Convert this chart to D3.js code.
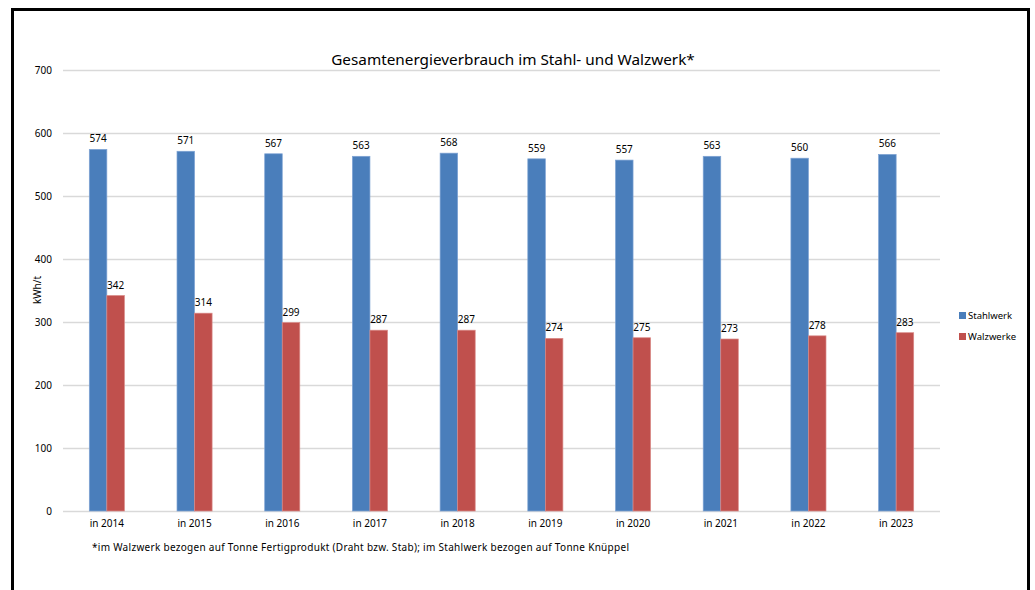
<!DOCTYPE html>
<html>
<head>
<meta charset="utf-8">
<script src="https://cdn.jsdelivr.net/npm/d3@7"></script>
<style>
  html, body { margin: 0; padding: 0; background: #fff; }
  svg { display: block; font-family: "Noto Sans", "Open Sans", sans-serif; }
</style>
</head>
<body>
<svg id="chart" width="1035" height="590"></svg>
<script>
// Energy use per tonne, steel plant vs. rolling mills
const categories = ["in 2014", "in 2015", "in 2016", "in 2017", "in 2018",
                    "in 2019", "in 2020", "in 2021", "in 2022", "in 2023"];
const seriesNames = ["Stahlwerk", "Walzwerke"];
const stahlwerk = [574, 571, 567, 563, 568, 559, 557, 563, 560, 566];
const walzwerke = [342, 314, 299, 287, 287, 274, 275, 273, 278, 283];
const yTicks = [0, 100, 200, 300, 400, 500, 600, 700];
const colors = ["#4a7ebb", "#c0504d"];
const strokeColors = ["#7ea3d4", "#d98987"];

const svg = d3.select("#chart");
const margin = { left: 63, right: 95, top: 70, bottom: 79 };

// Outer frame
svg.append("rect")
  .attr("x", 12.5).attr("y", 9.5)
  .attr("width", 1016).attr("height", 590)
  .attr("fill", "none").attr("stroke", "#000").attr("stroke-width", 3);

const x0 = d3.scaleBand()
  .domain(categories)
  .range([margin.left, 940])
  .paddingInner(0.6).paddingOuter(0.3);
const x1 = d3.scaleBand()
  .domain(seriesNames)
  .range([0, x0.bandwidth()]);
const y = d3.scaleLinear().domain([0, 700]).range([511, 70]);

// Gridlines
svg.append("g").selectAll("line").data(yTicks).join("line")
  .attr("x1", margin.left).attr("x2", 940)
  .attr("y1", d => Math.round(y(d)) + 0.5).attr("y2", d => Math.round(y(d)) + 0.5)
  .attr("stroke", "#d9d9d9").attr("stroke-width", 1.5);

// Y axis labels
const yAxis = d3.axisLeft(y).tickValues(yTicks).tickSize(0).tickPadding(0);
const yg = svg.append("g").attr("transform", "translate(52,0)").call(yAxis);
yg.select(".domain").remove();
yg.selectAll("text").attr("font-size", 10).attr("fill", "#000")
  .attr("font-family", "Noto Sans, sans-serif");

// X axis labels
const xAxis = d3.axisBottom(x0).tickSize(0).tickPadding(0);
const xg = svg.append("g").attr("transform", "translate(0,520)").call(xAxis);
xg.select(".domain").remove();
xg.selectAll("text").attr("font-size", 10).attr("fill", "#000")
  .attr("font-family", "Noto Sans, sans-serif");

// Bars
const series = [stahlwerk, walzwerke];
const groups = svg.append("g").selectAll("g").data(categories).join("g")
  .attr("transform", d => `translate(${x0(d)},0)`);

groups.selectAll("rect")
  .data((c, i) => series.map((s, k) => ({ name: seriesNames[k], k, v: s[i] })))
  .join("rect")
  .attr("x", d => x1(d.name))
  .attr("y", d => y(d.v))
  .attr("width", x1.bandwidth())
  .attr("height", d => y(0) - y(d.v))
  .attr("fill", d => colors[d.k])
  .attr("stroke", d => strokeColors[d.k])
  .attr("stroke-width", 0.7);

// Value labels
groups.selectAll("text.val")
  .data((c, i) => series.map((s, k) => ({ name: seriesNames[k], k, v: s[i] })))
  .join("text")
  .attr("class", "val")
  .attr("x", d => x1(d.name) + x1.bandwidth() / 2)
  .attr("y", d => y(d.v) - 7)
  .attr("text-anchor", "middle")
  .attr("font-size", 10)
  .text(d => d.v);

// Title
svg.append("text")
  .attr("x", 513).attr("y", 65)
  .attr("text-anchor", "middle")
  .attr("font-size", 15.3)
  .text("Gesamtenergieverbrauch im Stahl- und Walzwerk*");

// Y axis title
svg.append("text")
  .attr("transform", "translate(41,290) rotate(-90)")
  .attr("text-anchor", "middle")
  .attr("font-size", 10)
  .text("kWh/t");

// Footnote
svg.append("text")
  .attr("x", 92).attr("y", 551)
  .attr("font-size", 10)
  .attr("textLength", 537)
  .attr("lengthAdjust", "spacing")
  .text("*im Walzwerk bezogen auf Tonne Fertigprodukt (Draht bzw. Stab); im Stahlwerk bezogen auf Tonne Knüppel");

// Legend
const legend = svg.append("g").selectAll("g").data(seriesNames).join("g")
  .attr("transform", (d, i) => `translate(959,${312 + i * 21})`);
legend.append("rect")
  .attr("width", 7).attr("height", 7)
  .attr("fill", (d, i) => colors[i]);
legend.append("text")
  .attr("x", 9).attr("y", 7)
  .attr("font-size", 9.5)
  .text(d => d);
</script>
</body>
</html>
